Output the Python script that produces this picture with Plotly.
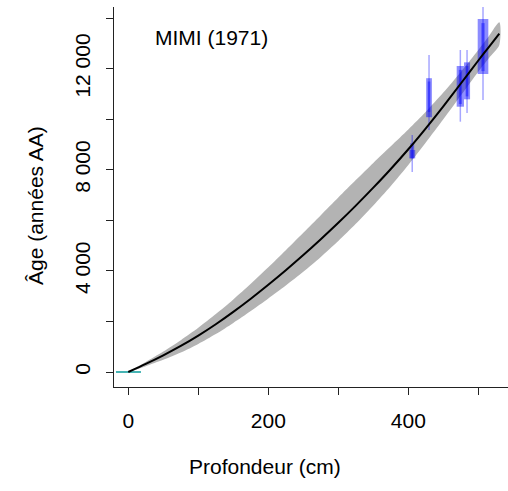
import plotly.graph_objects as go

# --- data ---
model_depth = [0, 25, 50, 75, 100, 125, 150, 175, 200, 225, 250, 275, 300,
               325, 350, 375, 400, 425, 450, 475, 500, 515, 530]
model_age   = [0, 320, 660, 1030, 1440, 1890, 2380, 2900, 3450, 4025, 4625,
               5250, 5900, 6580, 7290, 8030, 8810, 9640, 10510, 11410, 12320,
               12850, 13380]
band_old    = [0, 400, 810, 1260, 1750, 2290, 2870, 3490, 4140, 4815, 5505,
               6200, 6900, 7590, 8270, 8930, 9590, 10290, 11050, 11870, 12740,
               13280, 13830]
band_young  = [0, 230, 480, 770, 1110, 1500, 1940, 2410, 2910, 3425, 3965,
               4550, 5180, 5860, 6590, 7360, 8190, 9080, 10000, 10940, 11880,
               12410, 12930]

date_depth     = [405.6, 429.6, 474.3, 483.9, 506.7]
date_line_min  = [7910, 9571, 9900, 10243, 10757]
date_line_max  = [9373, 12537, 12735, 12735, 14449]
date_box_min   = [8450, 10078, 10493, 10785, 11786]
date_box_max   = [9044, 11620, 12102, 12247, 13961]
date_box_half  = [2.8, 4.1, 5.2, 4.3, 7.6]
date_core_min  = [8450, 10280, 10600, 10900, 11900]
date_core_max  = [8780, 11490, 11950, 12100, 13800]
date_core_half = [4.3, 1.9, 2.2, 2.0, 2.4]

top_depth = [-17.6, 18.1]
top_age = [0, 0]

x_tickvals = [0, 100, 200, 300, 400, 500]
x_ticktext = ["0", "", "200", "", "400", ""]
y_tickvals = [0, 2000, 4000, 6000, 8000, 10000, 12000, 14000]
y_ticktext = ["0", "", "4 000", "", "8 000", "", "12 000", ""]

FONT = "Liberation Sans, Arial, Helvetica, sans-serif"

fig = go.Figure()

# uncertainty band
fig.add_trace(go.Scatter(
    x=model_depth + model_depth[::-1],
    y=band_old + band_young[::-1],
    fill="toself", fillcolor="rgb(179,179,179)",
    line=dict(width=0, shape="spline", smoothing=0.8), mode="lines",
    hoverinfo="skip", showlegend=False))

# calibrated dates
for d, lmin, lmax, bmin, bmax, bh, cmin, cmax, ch in zip(
        date_depth, date_line_min, date_line_max, date_box_min, date_box_max,
        date_box_half, date_core_min, date_core_max, date_core_half):
    fig.add_trace(go.Scatter(x=[d, d], y=[lmin, lmax], mode="lines",
                             line=dict(color="rgba(0,0,255,0.35)", width=1.5),
                             showlegend=False, hoverinfo="skip"))
    fig.add_trace(go.Scatter(x=[d - bh, d + bh, d + bh, d - bh, d - bh],
                             y=[bmin, bmin, bmax, bmax, bmin],
                             fill="toself", fillcolor="rgba(0,0,255,0.45)",
                             line=dict(width=0), mode="lines",
                             showlegend=False, hoverinfo="skip"))
    fig.add_trace(go.Scatter(x=[d - ch, d + ch, d + ch, d - ch, d - ch],
                             y=[cmin, cmin, cmax, cmax, cmin],
                             fill="toself", fillcolor="rgba(0,0,255,0.4)",
                             line=dict(width=0), mode="lines",
                             showlegend=False, hoverinfo="skip"))

# core top
fig.add_trace(go.Scatter(x=top_depth, y=top_age, mode="lines",
                         line=dict(color="rgb(70,180,180)", width=2),
                         showlegend=False, hoverinfo="skip"))

# model median line
fig.add_trace(go.Scatter(x=model_depth, y=model_age, mode="lines",
                         line=dict(color="black", width=2, shape="spline",
                                   smoothing=0.8),
                         showlegend=False, hoverinfo="skip"))

fig.update_layout(
    width=508, height=491,
    margin=dict(l=114, r=0, t=7, b=104),
    paper_bgcolor="white", plot_bgcolor="white",
    font=dict(family=FONT, size=21, color="black"),
    showlegend=False,
    xaxis=dict(range=[-20.4, 542.4], showgrid=False, zeroline=False,
               showline=True, linecolor="#222", linewidth=1,
               ticks="outside", ticklen=7, tickcolor="#222",
               tickvals=x_tickvals, ticktext=x_ticktext,
               ticklabelstandoff=8, tickfont=dict(size=21)),
    yaxis=dict(range=[-593, 14436], showgrid=False, zeroline=False,
               showline=True, linecolor="#222", linewidth=1,
               ticks="outside", ticklen=7, tickcolor="#222",
               tickvals=y_tickvals, ticktext=y_ticktext, tickangle=-90,
               ticklabelstandoff=8, tickfont=dict(size=21)),
    annotations=[
        dict(text="Profondeur (cm)", xref="paper", yref="paper",
             x=0.3832, y=-0.2079, xanchor="center", yanchor="middle",
             showarrow=False, font=dict(size=21)),
        dict(text="Âge (années AA)", xref="paper", yref="paper",
             x=-0.2005, y=0.4763, xanchor="center", yanchor="middle",
             textangle=-90, showarrow=False, font=dict(size=21)),
        dict(text="MIMI (1971)", xref="paper", yref="paper",
             x=0.099, y=0.921, xanchor="left", yanchor="middle",
             showarrow=False, font=dict(size=21)),
    ],
)

fig.write_html("out.html")
